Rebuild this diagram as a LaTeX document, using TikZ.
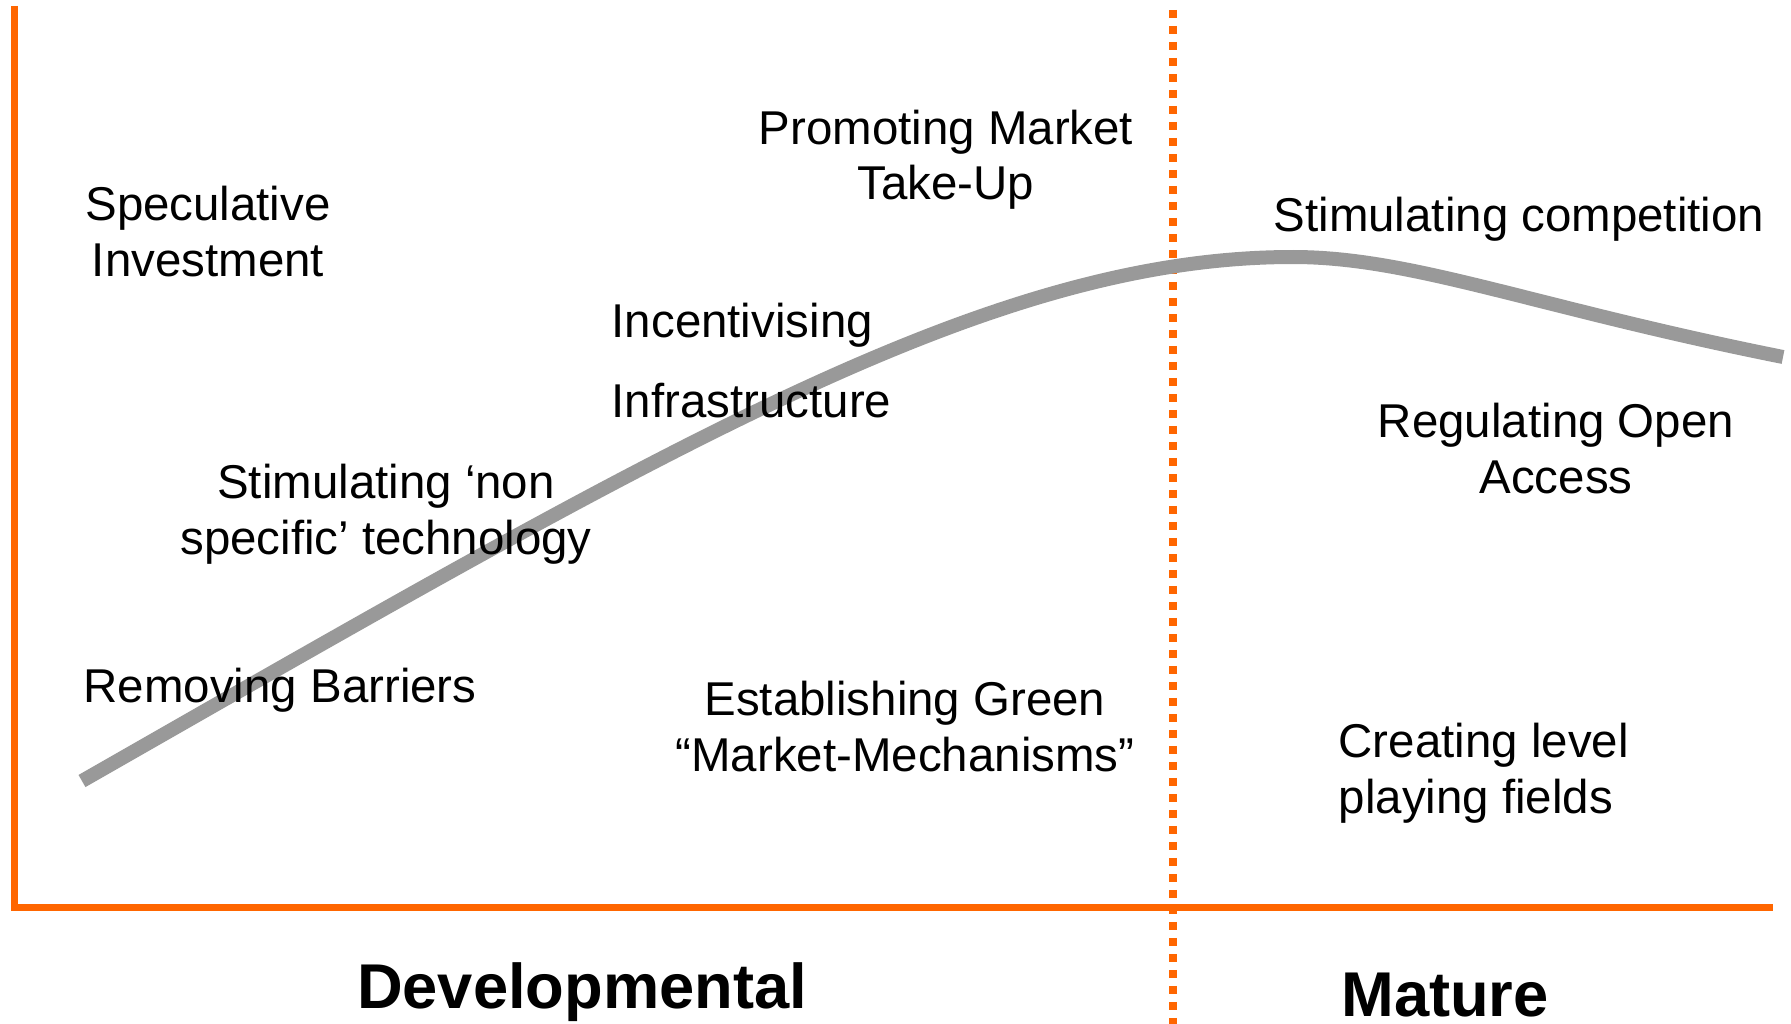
\documentclass[tikz,border=0pt]{standalone}
\usepackage{fontspec}
\setmainfont{Liberation Sans}
\usetikzlibrary{calc}

\definecolor{axisorange}{HTML}{FF6600}
\definecolor{curvegray}{HTML}{999999}

\begin{document}
\begin{tikzpicture}[x=0.1mm, y=-0.1mm,
    every node/.style={inner sep=0pt, font=\fontsize{13.5}{15.9}\selectfont},
    txt/.style={anchor=base, align=center},
    txtleft/.style={anchor=base west, align=left},
    phase/.style={anchor=base, font=\fontsize{18}{21}\selectfont\bfseries},
    axis/.style={draw=axisorange, line width=0.7mm},
    divider/.style={draw=axisorange, line width=0.8mm, dash pattern=on 0.8mm off 0.8mm},
    curve/.style={draw=curvegray, line width=1.4mm}]

    \useasboundingbox (0,0) rectangle (1791,1024);

    % Axes
    \coordinate (ytop) at (14,6);
    \coordinate (origin) at (14,907);
    \coordinate (xend) at (1773,907);
    \coordinate (divtop) at (1173,10);
    \coordinate (divbot) at (1173,1024);

    \draw[axis] (ytop) -- (origin) -- (xend);
    \draw[divider] (divtop) -- (divbot);

    % Life cycle curve (under the labels)
    \coordinate (cstart) at (82,781);
    \coordinate (cpeak) at (1293,257);
    \coordinate (cend) at (1783,357);
    \draw[curve] (cstart) .. controls (670,445) and (990,257) .. (cpeak)
        .. controls (1413,257) and (1533,307) .. (cend);

    % Labels (base = last line)
    \node[txt] (spec) at (208,276) {Speculative\\Investment};
    \node[txt] (promo) at (946,200) {Promoting Market\\Take-Up};
    \node[txtleft] (comp) at (1273,232) {Stimulating competition};
    \node[txtleft] (incent) at (611,337) {Incentivising};
    \node[txtleft] (infra) at (611,417) {Infrastructure};
    \node[txt] (nonspec) at (386,554) {Stimulating ‘non\\specific’ technology};
    \node[txt] (openacc) at (1556,493) {Regulating Open\\Access};
    \node[txtleft] (barriers) at (83,702) {Removing Barriers};
    \node[txt] (green) at (905,771) {Establishing Green\\“Market-Mechanisms”};
    \node[txtleft] (level) at (1338,813) {Creating level\\playing fields};

    % Phases
    \node[phase] (dev) at (582,1008) {Developmental};
    \node[phase] (mature) at (1445,1016) {Mature};

\end{tikzpicture}
\end{document}
